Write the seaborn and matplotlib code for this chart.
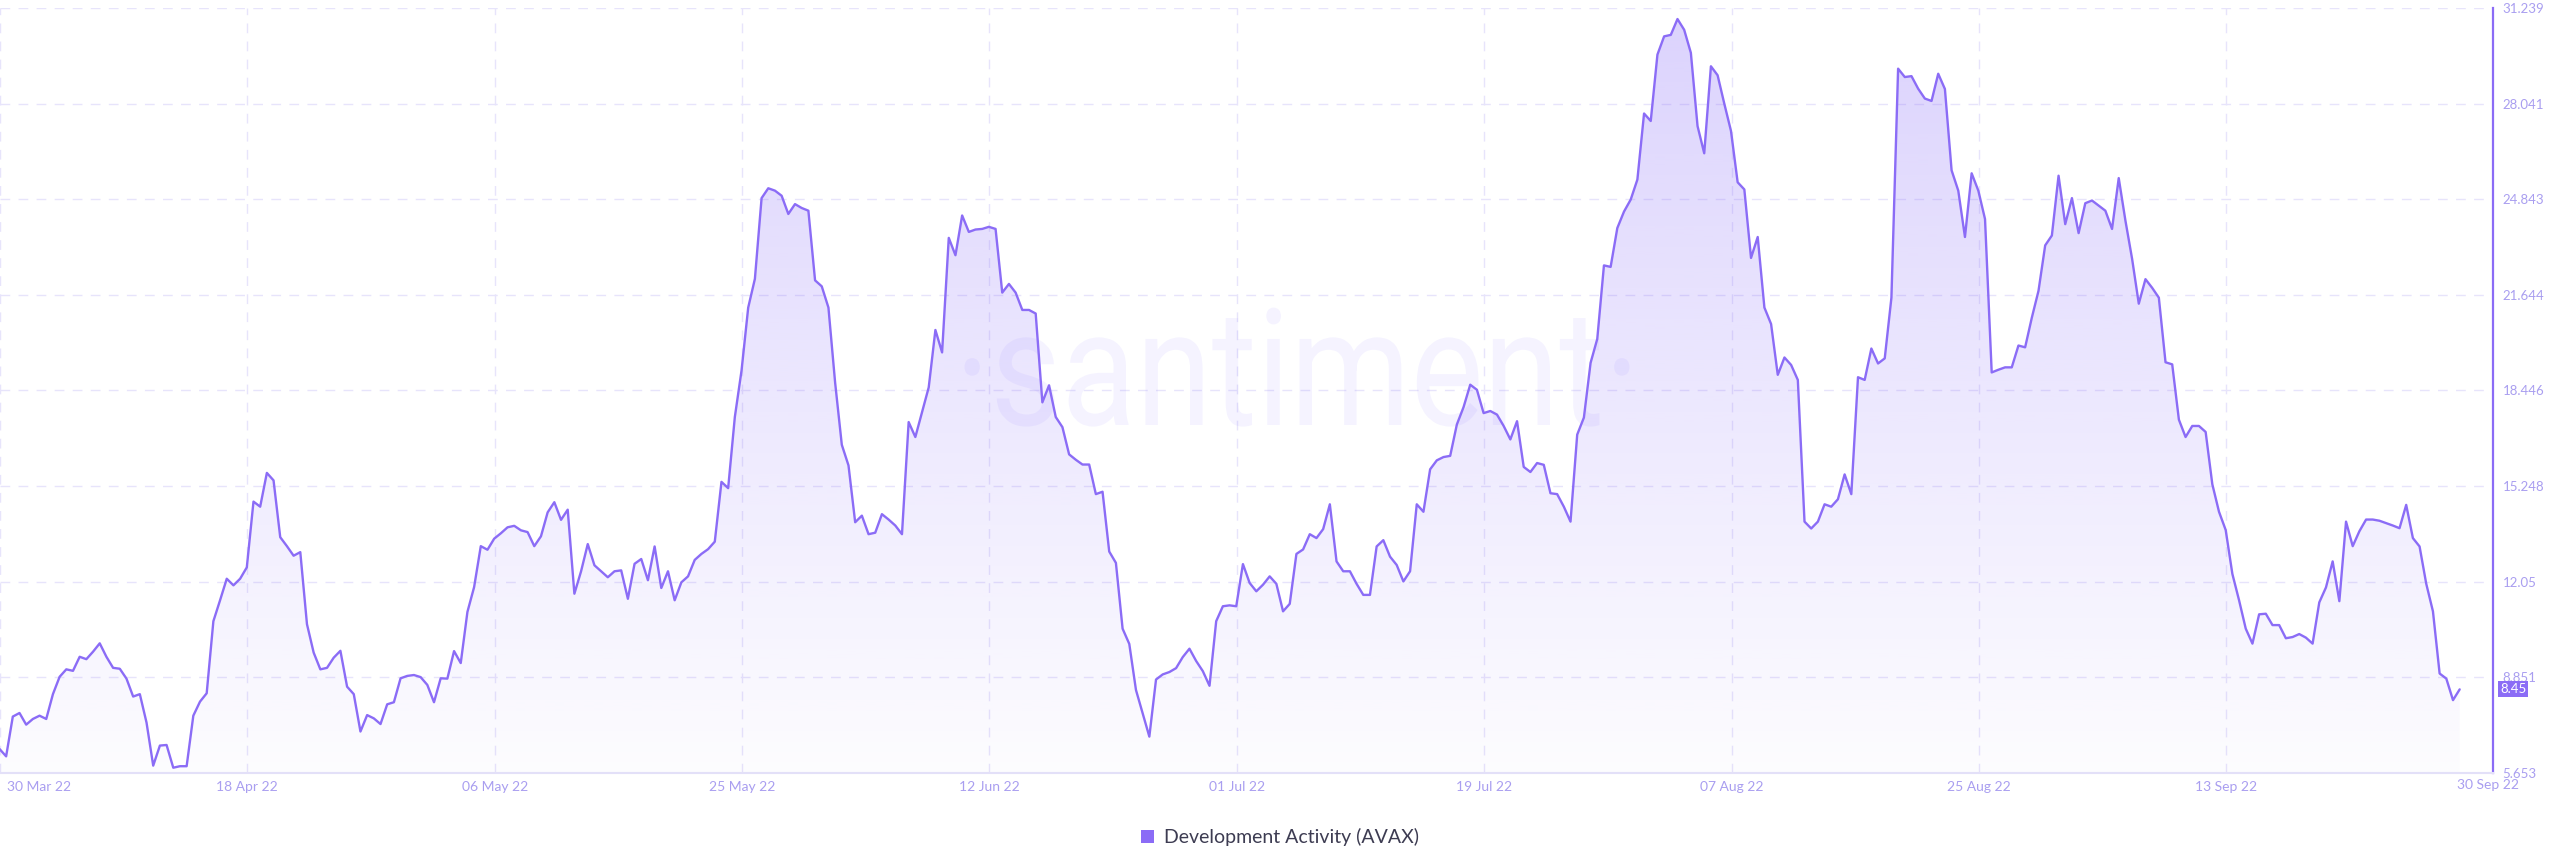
import numpy as np
import pandas as pd
import matplotlib
matplotlib.use("Agg")
import matplotlib.pyplot as plt
import matplotlib.dates as mdates
from matplotlib.patches import Patch, PathPatch
from matplotlib.transforms import ScaledTranslation, Affine2D
from matplotlib.textpath import TextPath
from matplotlib.font_manager import FontProperties
import seaborn as sns

# ---------------- data (12-hourly readings, from 30 Mar 2022 12:00) ----------------
series_start = "2022-03-30 12:00"
dev_activity = [
    # 30 Mar - 30 Apr
    6.46, 6.21, 7.54, 7.66, 7.27, 7.46, 7.57, 7.46, 8.29, 8.87, 9.12, 9.07, 9.54, 9.46, 9.71, 9.99,
    9.54, 9.17, 9.14, 8.81, 8.21, 8.29, 7.34, 5.90, 6.57, 6.59, 5.83, 5.88, 5.88, 7.57, 8.04, 8.32,
    10.73, 11.43, 12.15, 11.93, 12.15, 12.53, 14.73, 14.56, 15.69, 15.44, 13.54, 13.24, 12.92, 13.04,
    10.63, 9.68, 9.12, 9.17, 9.51, 9.74, 8.54, 8.29, 7.04, 7.59, 7.48, 7.29, 7.95, 8.02, 8.82, 8.90,
    8.93,
    # May
    8.86, 8.60, 8.02, 8.82, 8.81, 9.73, 9.33, 11.04, 11.87, 13.24, 13.12, 13.49, 13.67, 13.87, 13.92,
    13.77, 13.71, 13.24, 13.57, 14.37, 14.71, 14.12, 14.46, 11.65, 12.40, 13.31, 12.60, 12.40, 12.20,
    12.40, 12.43, 11.48, 12.65, 12.81, 12.10, 13.23, 11.84, 12.40, 11.43, 12.03, 12.23, 12.78, 12.98,
    13.14, 13.39, 15.39, 15.18, 17.56, 19.11, 21.22, 22.18, 24.88, 25.21, 25.13, 24.96, 24.35, 24.68,
    24.55, 24.46, 22.13, 21.93, 21.22,
    # June
    18.71, 16.63, 15.94, 14.04, 14.26, 13.64, 13.69, 14.31, 14.13, 13.93, 13.64, 17.39, 16.89, 17.72,
    18.55, 20.47, 19.72, 23.55, 22.97, 24.30, 23.75, 23.83, 23.85, 23.92, 23.85, 21.72, 22.01, 21.72,
    21.14, 21.14, 21.02, 18.05, 18.62, 17.56, 17.22, 16.31, 16.13, 15.97, 15.97, 14.98, 15.06, 13.06,
    12.68, 10.48, 9.97, 8.43, 7.65, 6.87, 8.78, 8.95, 9.03, 9.16, 9.53, 9.81, 9.40, 9.06, 8.57, 10.73,
    11.23, 11.26, 11.23,
    # July
    12.64, 12.01, 11.73, 11.95, 12.23, 11.98, 11.06, 11.31, 12.98, 13.13, 13.64, 13.51, 13.81, 14.64,
    12.73, 12.40, 12.40, 11.98, 11.61, 11.61, 13.23, 13.44, 12.89, 12.61, 12.06, 12.40, 14.64, 14.39,
    15.81, 16.11, 16.22, 16.26, 17.31, 17.89, 18.64, 18.47, 17.69, 17.76, 17.64, 17.26, 16.81, 17.42,
    15.89, 15.72, 16.02, 15.96, 15.01, 14.98, 14.56, 14.06, 16.97, 17.54, 19.37, 20.17, 22.63, 22.58,
    23.88, 24.43, 24.83, 25.50, 27.71,
    # August
    27.46, 29.68, 30.29, 30.34, 30.87, 30.51, 29.74, 27.29, 26.38, 29.29, 28.99, 28.04, 27.13, 25.41,
    25.17, 22.88, 23.58, 21.22, 20.67, 18.97, 19.55, 19.30, 18.80, 14.06, 13.83, 14.06, 14.64, 14.56,
    14.81, 15.64, 14.98, 18.89, 18.80, 19.85, 19.35, 19.52, 21.55, 29.21, 28.93, 28.96, 28.54, 28.21,
    28.13, 29.04, 28.53, 25.81, 25.13, 23.58, 25.71, 25.13, 24.18, 19.05, 19.14, 19.22, 19.22, 19.95,
    19.89, 20.88, 21.78, 23.30, 23.63,
    # September
    25.63, 24.01, 24.88, 23.71, 24.71, 24.80, 24.63, 24.46, 23.85, 25.55, 24.13, 22.85, 21.35, 22.17,
    21.88, 21.55, 19.39, 19.32, 17.47, 16.89, 17.26, 17.26, 17.06, 15.31, 14.39, 13.78, 12.31, 11.43,
    10.48, 9.98, 10.96, 10.98, 10.60, 10.60, 10.16, 10.20, 10.30, 10.18, 9.98, 11.36, 11.86, 12.73,
    11.40, 14.06, 13.24, 13.74, 14.13, 14.13, 14.09, 14.01, 13.93, 13.84, 14.62, 13.51, 13.23, 11.98,
    11.06, 8.98, 8.81, 8.09, 8.45,
]
series_name = "Development Activity (AVAX)"
y_tick_values = [5.653, 8.851, 12.05, 15.248, 18.446, 21.644, 24.843, 28.041, 31.239]
y_tick_labels = ["5.653", "8.851", "12.05", "15.248", "18.446", "21.644", "24.843", "28.041", "31.239"]
last_value_label = "8.45"
last_date_label = "30 Sep 22"
watermark = "\u00b7santiment\u00b7"

dates = pd.date_range(series_start, periods=len(dev_activity), freq="12h")
df = pd.DataFrame({"date": dates, "value": dev_activity})

# ---------------- style ----------------
LINE = "#8b6cf6"
TICK = "#a99ef0"
GRID = "#e7e4fb"

sns.set_theme(style="white")
plt.rcParams["font.family"] = ["Lato", "DejaVu Sans"]

W, H = 2560, 867
fig = plt.figure(figsize=(W / 100, H / 100), dpi=100)
fig.patch.set_facecolor("white")
ax = fig.add_axes([0.0, 1 - 773 / H, 2493 / W, 765 / H])

axis_start = pd.Timestamp("2022-03-30 13:00")
axis_end = axis_start + pd.Timedelta(days=186.45)
ymin, ymax = y_tick_values[0], y_tick_values[-1]

# line
sns.lineplot(data=df, x="date", y="value", color=LINE, linewidth=1.7, ax=ax, zorder=4)

# gradient fill under the line
poly = ax.fill_between(df["date"], df["value"], ymin, color="none", linewidth=0)
x0n, x1n = mdates.date2num(axis_start), mdates.date2num(axis_end)
n = 256
alpha = np.linspace(0.02, 0.31, n)
rgba = np.zeros((n, 1, 4))
rgba[..., 0] = 140 / 255
rgba[..., 1] = 112 / 255
rgba[..., 2] = 250 / 255
rgba[:, 0, 3] = alpha
im = ax.imshow(rgba, extent=[x0n, x1n, ymin, ymax], origin="lower",
               aspect="auto", zorder=2, interpolation="bilinear")
im.set_clip_path(poly.get_paths()[0], transform=ax.transData)

# watermark (text path, stretched to the logo's proportions, in pixel coords)
tp = TextPath((0, 0), watermark, size=100, prop=FontProperties(family="Roboto"))
bb = tp.get_extents()
sx = 665 / bb.width
sy = 86 / 52.8
wm_tr = Affine2D().translate(-(bb.x0 + bb.width / 2), 0).scale(sx, sy).translate(1297, H - 425)
wm = PathPatch(tp, transform=wm_tr, facecolor="#7b61ff", edgecolor="none", alpha=0.075, zorder=3)
ax.add_artist(wm)
wm.set_clip_on(False)

ax.set_xlim(axis_start, axis_end)
ax.set_ylim(ymin, ymax)

# x ticks (evenly spaced every 18.5 days)
xticks = [axis_start + pd.Timedelta(days=18.5 * i) for i in range(10)]
ax.set_xticks(xticks)
ax.set_xticklabels([t.strftime("%d %b %y") for t in xticks])
ax.tick_params(axis="x", length=0, pad=6, labelsize=10, labelcolor=TICK)
lbls = ax.get_xticklabels()
lbls[0].set_ha("left")
lbls[0].set_transform(lbls[0].get_transform() + ScaledTranslation(7 / 100, 0, fig.dpi_scale_trans))
ax.annotate(last_date_label, xy=(df["date"].iloc[-1], 0), xycoords=("data", "axes fraction"),
            xytext=(-3, -6), textcoords="offset pixels", ha="left", va="top",
            fontsize=10, color=TICK)

# y ticks on right
ax.yaxis.tick_right()
ax.set_yticks(y_tick_values)
ax.set_yticklabels(y_tick_labels)
ax.tick_params(axis="y", length=0, pad=7, labelsize=9.5, labelcolor=TICK)

ax.set_xlabel("")
ax.set_ylabel("")

# grid
ax.grid(True, color=GRID, linestyle=(0, (7, 6)), linewidth=1.0)
ax.set_axisbelow(True)

for s in ["left", "top"]:
    ax.spines[s].set_visible(False)
ax.spines["right"].set_color(LINE)
ax.spines["right"].set_linewidth(1.6)
ax.spines["bottom"].set_color("#e3e0f8")
ax.spines["bottom"].set_linewidth(1.5)

# last value badge
ax.annotate(last_value_label, xy=(1, dev_activity[-1]), xycoords=("axes fraction", "data"),
            xytext=(7, 0), textcoords="offset pixels", ha="left", va="center",
            fontsize=9.5, color="white",
            bbox=dict(boxstyle="square,pad=0.15", fc=LINE, ec="none"))

# legend
fig.legend(handles=[Patch(facecolor=LINE, edgecolor="none", label=series_name)],
           loc="center", bbox_to_anchor=(0.5, 1 - 837 / H), frameon=False,
           fontsize=14, handlelength=0.65, handleheight=0.65, handletextpad=0.5,
           labelcolor="#3d3c52")

fig.savefig("out.png", dpi=100, facecolor="white")
